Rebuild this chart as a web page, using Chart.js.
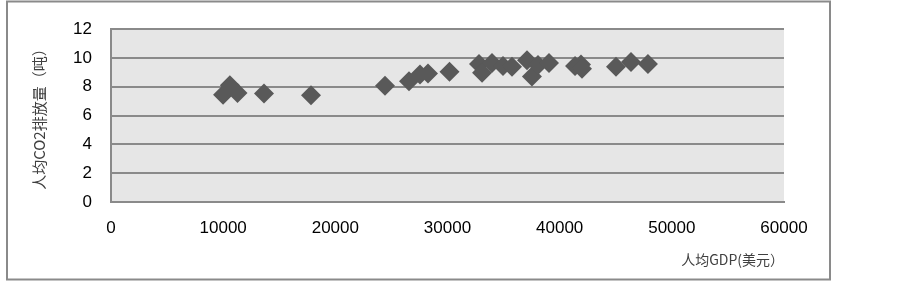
<!DOCTYPE html>
<html lang="zh">
<head>
  <meta charset="UTF-8">
  <title>人均GDP与人均CO2排放量</title>
  <script src="https://cdn.jsdelivr.net/npm/chart.js@4.4.1/dist/chart.umd.min.js"></script>
  <style>
    html, body { margin: 0; padding: 0; background: #fff; }
    #wrap { width: 903px; height: 282px; position: relative; }
  </style>
</head>
<body>
  <div id="wrap"><canvas id="scatterChart"></canvas></div>

  <script>
    // 人均GDP (美元)
    const gdp = [9990, 10600, 11280, 13640, 17830, 24430, 26570, 27550, 28260, 30180,
                 32810, 33080, 33970, 34950, 35750, 37090, 37530, 38070, 39050,
                 41370, 41900, 41990, 45020, 46360, 47870];
    // 人均CO2排放量 (吨)
    const co2 = [7.44, 8.1, 7.57, 7.54, 7.41, 8.08, 8.38, 8.85, 8.92, 9.05,
                 9.59, 8.98, 9.65, 9.45, 9.39, 9.85, 8.71, 9.52, 9.65,
                 9.45, 9.55, 9.25, 9.39, 9.72, 9.59];

    const xTicks = [0, 10000, 20000, 30000, 40000, 50000, 60000];
    const yTicks = [0, 2, 4, 6, 8, 10, 12];

    const points = gdp.map((g, i) => ({ x: g, y: co2[i] }));

    // plot background + outer frame
    const framePlugin = {
      id: 'frame',
      beforeDraw(chart) {
        const { ctx, chartArea } = chart;
        ctx.save();
        ctx.fillStyle = '#e6e6e6';
        ctx.fillRect(chartArea.left, chartArea.top, chartArea.right - chartArea.left, chartArea.bottom - chartArea.top);
        ctx.strokeStyle = '#8a8a8a';
        ctx.lineWidth = 2;
        ctx.strokeRect(7, 1.5, 823, 278);
        ctx.restore();
      }
    };

    const tickFont = { family: 'Liberation Sans', size: 17 };
    const titleFont = { family: 'Noto Sans CJK SC', size: 14 };

    new Chart(document.getElementById('scatterChart'), {
      type: 'scatter',
      data: {
        datasets: [{
          data: points,
          pointStyle: 'rectRot',
          pointRadius: 10,
          pointHoverRadius: 10,
          pointBackgroundColor: '#595959',
          pointBorderColor: '#595959',
          pointBorderWidth: 0
        }]
      },
      options: {
        responsive: true,
        maintainAspectRatio: false,
        animation: false,
        layout: { padding: { left: 0, top: 23, right: 119, bottom: 0 } },
        plugins: {
          legend: { display: false },
          tooltip: { enabled: false }
        },
        scales: {
          x: {
            type: 'linear',
            min: 0,
            max: 60000,
            afterBuildTicks: axis => { axis.ticks = xTicks.map(v => ({ value: v })); },
            afterFit: axis => { axis.height = 80; },
            grid: { display: false, drawTicks: false },
            border: { display: true, color: '#8a8a8a', width: 2 },
            ticks: { color: '#000', font: tickFont, padding: 16, maxRotation: 0, callback: v => String(v) },
            title: {
              display: true,
              text: '人均GDP(美元）',
              align: 'end',
              color: '#404040',
              font: titleFont,
              padding: { top: 0, bottom: 14 }
            }
          },
          y: {
            type: 'linear',
            min: 0,
            max: 12,
            afterBuildTicks: axis => { axis.ticks = yTicks.map(v => ({ value: v })); },
            afterFit: axis => { axis.width = 111; },
            grid: { color: '#8a8a8a', lineWidth: 2, drawTicks: false },
            border: { display: true, color: '#8a8a8a', width: 2 },
            ticks: { color: '#000', font: tickFont, padding: 19, callback: v => String(v) },
            title: {
              display: true,
              text: '人均CO2排放量（吨）',
              color: '#404040',
              font: { family: 'Noto Sans CJK SC', size: 15 },
              padding: { top: 30, bottom: 0 }
            }
          }
        }
      },
      plugins: [framePlugin]
    });
  </script>
</body>
</html>
